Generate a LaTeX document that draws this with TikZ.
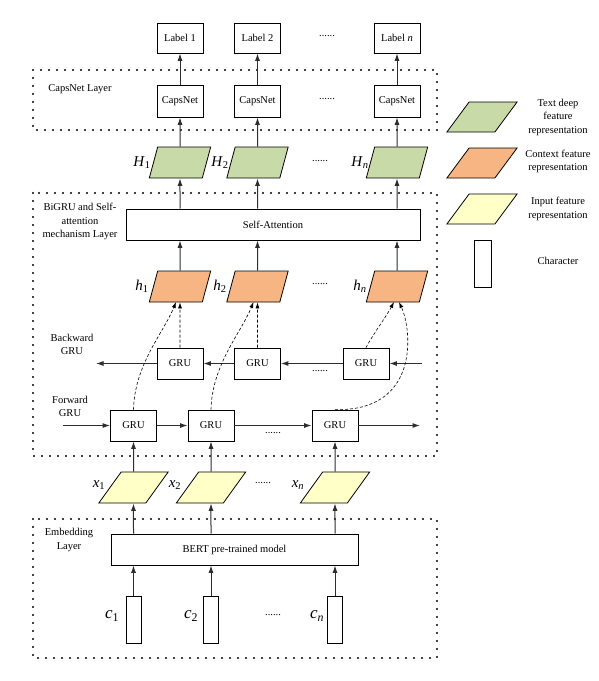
\documentclass[tikz,border=0pt]{standalone}
\usepackage{fontspec}
\setmainfont{Liberation Serif}
\usetikzlibrary{shapes.geometric, arrows.meta, positioning}
\definecolor{deepgreen}{RGB}{201, 218, 169}
\definecolor{ctxorange}{RGB}{246, 181, 130}
\definecolor{inyellow}{RGB}{255, 255, 200}
\definecolor{arrowgray}{RGB}{45, 45, 45}

\begin{document}
\begin{tikzpicture}[
    x=1pt, y=-1pt,
    font=\fontsize{10.5}{13.5}\selectfont,
    box/.style={rectangle, draw, line width=0.8pt, fill=white, inner sep=0pt, minimum width=46pt, minimum height=31pt},
    para/.style={rectangle, draw, line width=0.8pt, inner sep=0pt, xslant=0.27, minimum width=53pt, minimum height=31pt},
    inpara/.style={para, xslant=0.45, minimum width=47pt, fill=inyellow},
    keypara/.style={para, xslant=0.47, minimum width=48pt, minimum height=30pt},
    charbox/.style={rectangle, draw, line width=0.8pt, inner sep=0pt, minimum width=15pt, minimum height=47pt},
    sym/.style={font=\fontsize{15}{15}\selectfont},
    layer/.style={line width=2.2pt, dash pattern=on 0pt off 8pt, line cap=round},
    flow/.style={-{Latex[length=7.5pt, width=5pt]}, draw=arrowgray, line width=1pt},
    link/.style={-{Latex[length=6pt, width=4pt]}, densely dashed, line width=0.6pt}
]
\useasboundingbox (0,0) rectangle (599,681);

% CapsNet layer and outputs
\draw[layer] (33,70) rectangle (437,130);
\node (capslayer) at (80,89) {CapsNet Layer};
\node[box, minimum height=30pt] (lab1) at (180,38) {Label 1};
\node[box, minimum height=30pt] (lab2) at (257.5,38) {Label 2};
\node[box, minimum height=30pt] (labn) at (397,38) {Label \textit{n}};
\node (labdots) at (327,36) {......};
\node[box, minimum height=32pt] (cap1) at (180,101) {CapsNet};
\node[box, minimum height=32pt] (cap2) at (257.5,101) {CapsNet};
\node[box, minimum height=32pt] (capn) at (397,101) {CapsNet};
\node (capdots) at (327,99) {......};

\node[para, fill=deepgreen] (H1) at (180,162.5) {};
\node[para, fill=deepgreen] (H2) at (257.5,162.5) {};
\node[para, fill=deepgreen] (Hn) at (397,162.5) {};
\node[sym] (H1lab) at (142,163) {\textit{H}\textsubscript{1}};
\node[sym] (H2lab) at (220,163) {\textit{H}\textsubscript{2}};
\node[sym] (Hnlab) at (360,163) {\textit{H}\textsubscript{\textit{n}}};
\node (Hdots) at (320,161) {......};

% BiGRU and self-attention layer
\draw[layer] (33,193) rectangle (437,456);
\node[align=center] (bigrulayer) at (80,221.5) {BiGRU and Self-\\attention\\mechanism Layer};
\node[box, minimum width=294pt] (sa) at (273,224.5) {Self-Attention};

\node[para, fill=ctxorange] (h1) at (180,286.5) {};
\node[para, fill=ctxorange] (h2) at (257.5,286.5) {};
\node[para, fill=ctxorange] (hn) at (397,286.5) {};
\node[sym] (h1lab) at (142,286) {\textit{h}\textsubscript{1}};
\node[sym] (h2lab) at (220,286) {\textit{h}\textsubscript{2}};
\node[sym] (hnlab) at (360,286) {\textit{h}\textsubscript{\textit{n}}};
\node (hdots) at (320,284) {......};

\node[align=center] (bwlab) at (72,344.5) {Backward\\GRU};
\node[box] (B1) at (180,363.5) {GRU};
\node[box] (B2) at (257.5,363.5) {GRU};
\node[box] (Bn) at (366,363.5) {GRU};
\node (bdots) at (320,371) {......};
\coordinate (bin) at (422,363.5);
\coordinate (bout) at (96,363.5);

\node[align=center] (fwlab) at (70,406.5) {Forward\\GRU};
\node[box] (F1) at (133.5,425.5) {GRU};
\node[box] (F2) at (211,425.5) {GRU};
\node[box] (Fn) at (335,425.5) {GRU};
\node (fdots) at (273,433) {......};
\coordinate (fin) at (63,425.5);
\coordinate (fout) at (420,425.5);

% inputs and embedding layer
\node[inpara] (x1) at (133.5,487.5) {};
\node[inpara] (x2) at (211,487.5) {};
\node[inpara] (xn) at (335,487.5) {};
\node[sym] (x1lab) at (99,485) {\textit{x}\textsubscript{1}};
\node[sym] (x2lab) at (175,485) {\textit{x}\textsubscript{2}};
\node[sym] (xnlab) at (298,485) {\textit{x}\textsubscript{\textit{n}}};
\node (xdots) at (263,483) {......};

\draw[layer] (33,519) rectangle (437,658);
\node[align=center] (emblayer) at (69,540) {Embedding\\Layer};
\node[box, minimum width=247pt] (bert) at (234.5,549.5) {BERT pre-trained model};

\node[charbox] (c1) at (133.5,619.5) {};
\node[charbox] (c2) at (211,619.5) {};
\node[charbox] (cn) at (335,619.5) {};
\node[font=\fontsize{17}{17}\selectfont] (c1lab) at (112,616) {\textit{c}\textsubscript{1}};
\node[font=\fontsize{17}{17}\selectfont] (c2lab) at (191,616) {\textit{c}\textsubscript{2}};
\node[font=\fontsize{17}{17}\selectfont] (cnlab) at (317,616) {\textit{c}\textsubscript{\textit{n}}};
\node (cdots) at (273,615) {......};

% legend
\node[keypara, fill=deepgreen] (keydeep) at (482,117) {};
\node[keypara, fill=ctxorange] (keyctx) at (482,163) {};
\node[keypara, fill=inyellow] (keyin) at (482,209) {};
\node[charbox, minimum width=17pt] (keychar) at (482.5,263.5) {};
\node[align=center] (keydeeplab) at (558,117) {Text deep\\feature\\representation};
\node[align=center] (keyctxlab) at (558,161.5) {Context feature\\representation};
\node[align=center] (keyinlab) at (558,209) {Input feature\\representation};
\node (keycharlab) at (558,261) {Character};

% connectors
\draw[flow] (cap1) -- (lab1);
\draw[flow] (cap2) -- (lab2);
\draw[flow] (capn) -- (labn);
\draw[flow] (H1) -- (cap1);
\draw[flow] (H2) -- (cap2);
\draw[flow] (Hn) -- (capn);
\draw[flow] (sa.north -| H1) -- (H1);
\draw[flow] (sa.north -| H2) -- (H2);
\draw[flow] (sa.north -| Hn) -- (Hn);
\draw[flow] (h1) -- (sa.south -| h1);
\draw[flow] (h2) -- (sa.south -| h2);
\draw[flow] (hn) -- (sa.south -| hn);

\draw[flow] (bin) -- (Bn);
\draw[flow] (Bn) -- (B2);
\draw[flow] (B2) -- (B1);
\draw[flow] (B1) -- (bout);
\draw[flow] (fin) -- (F1);
\draw[flow] (F1) -- (F2);
\draw[flow] (F2) -- (Fn);
\draw[flow] (Fn) -- (fout);

\draw[link] (B1) -- (h1);
\draw[link] (B2) -- (h2);
\draw[link] (Bn.north) .. controls +(8,-15) and +(-8,15) .. (394,302);
\draw[link] (F1.north) .. controls +(1,-45) and +(-12,30) .. (176,302);
\draw[link] (F2.north) .. controls +(1,-45) and +(-12,30) .. (253.5,302);
\draw[link] (Fn.north) .. controls +(85,2) and +(13,28) .. (399,302);

\draw[flow] (x1) -- (F1);
\draw[flow] (x2) -- (F2);
\draw[flow] (xn) -- (Fn);
\draw[flow] (bert.north -| x1) -- (x1);
\draw[flow] (bert.north -| x2) -- (x2);
\draw[flow] (bert.north -| xn) -- (xn);
\draw[flow] (c1) -- (bert.south -| c1);
\draw[flow] (c2) -- (bert.south -| c2);
\draw[flow] (cn) -- (bert.south -| cn);
\end{tikzpicture}
\end{document}
